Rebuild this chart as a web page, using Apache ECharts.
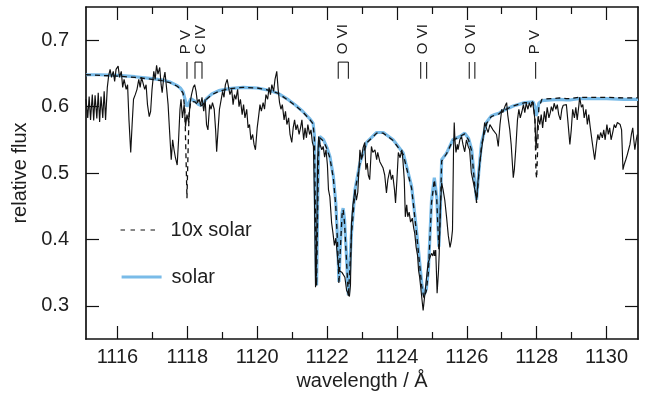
<!DOCTYPE html>
<html><head><meta charset="utf-8">
<script src="https://cdn.jsdelivr.net/npm/echarts@6/dist/echarts.min.js"></script>
<style>html,body{margin:0;padding:0;background:#fff}#c{width:651px;height:394px}</style>
</head><body><div id="c"></div>
<script>
// ---------- data ----------
const observed = [[1115.10,0.611],[1115.15,0.583],[1115.19,0.615],[1115.23,0.580],[1115.28,0.618],[1115.32,0.579],[1115.36,0.617],[1115.41,0.582],[1115.45,0.621],[1115.49,0.577],[1115.53,0.615],[1115.58,0.583],[1115.62,0.623],[1115.66,0.580],[1115.71,0.629],[1115.75,0.647],[1115.79,0.656],[1115.83,0.644],[1115.88,0.653],[1115.92,0.638],[1115.96,0.656],[1116.02,0.661],[1116.06,0.644],[1116.11,0.653],[1116.15,0.629],[1116.19,0.641],[1116.25,0.626],[1116.29,0.633],[1116.33,0.580],[1116.38,0.531],[1116.42,0.573],[1116.46,0.611],[1116.51,0.618],[1116.56,0.626],[1116.61,0.641],[1116.65,0.629],[1116.69,0.644],[1116.74,0.647],[1116.78,0.626],[1116.82,0.633],[1116.86,0.603],[1116.91,0.585],[1116.95,0.593],[1116.99,0.626],[1117.04,0.653],[1117.08,0.641],[1117.12,0.662],[1117.16,0.649],[1117.21,0.659],[1117.25,0.633],[1117.28,0.621],[1117.32,0.641],[1117.36,0.652],[1117.41,0.626],[1117.45,0.603],[1117.49,0.565],[1117.54,0.520],[1117.58,0.550],[1117.62,0.535],[1117.66,0.523],[1117.71,0.512],[1117.75,0.550],[1117.79,0.596],[1117.82,0.611],[1117.86,0.583],[1117.91,0.603],[1117.95,0.570],[1117.99,0.588],[1118.04,0.576],[1118.08,0.606],[1118.12,0.618],[1118.17,0.629],[1118.21,0.633],[1118.25,0.623],[1118.29,0.606],[1118.34,0.611],[1118.38,0.602],[1118.42,0.614],[1118.47,0.593],[1118.51,0.611],[1118.55,0.573],[1118.59,0.565],[1118.64,0.603],[1118.68,0.596],[1118.72,0.606],[1118.77,0.596],[1118.81,0.565],[1118.84,0.532],[1118.88,0.565],[1118.92,0.596],[1118.97,0.611],[1119.01,0.623],[1119.05,0.614],[1119.09,0.633],[1119.14,0.641],[1119.17,0.644],[1119.22,0.618],[1119.27,0.626],[1119.31,0.603],[1119.35,0.618],[1119.39,0.611],[1119.44,0.626],[1119.48,0.600],[1119.52,0.611],[1119.57,0.588],[1119.61,0.603],[1119.65,0.583],[1119.70,0.596],[1119.74,0.568],[1119.78,0.573],[1119.82,0.550],[1119.87,0.558],[1119.91,0.543],[1119.95,0.535],[1120.00,0.568],[1120.04,0.585],[1120.08,0.603],[1120.12,0.593],[1120.17,0.606],[1120.21,0.596],[1120.25,0.618],[1120.30,0.611],[1120.34,0.629],[1120.38,0.618],[1120.42,0.633],[1120.47,0.623],[1120.51,0.641],[1120.56,0.653],[1120.60,0.626],[1120.64,0.606],[1120.68,0.596],[1120.72,0.603],[1120.77,0.580],[1120.81,0.593],[1120.85,0.573],[1120.90,0.583],[1120.94,0.558],[1120.99,0.546],[1121.03,0.568],[1121.07,0.580],[1121.11,0.565],[1121.15,0.573],[1121.20,0.558],[1121.24,0.568],[1121.28,0.580],[1121.33,0.550],[1121.37,0.568],[1121.41,0.553],[1121.45,0.573],[1121.50,0.558],[1121.54,0.565],[1121.58,0.546],[1121.61,0.540],[1121.64,0.459],[1121.67,0.328],[1121.70,0.384],[1121.73,0.520],[1121.76,0.555],[1121.80,0.543],[1121.85,0.535],[1121.89,0.540],[1121.93,0.524],[1121.97,0.535],[1122.01,0.512],[1122.04,0.475],[1122.08,0.464],[1122.13,0.425],[1122.17,0.409],[1122.21,0.391],[1122.25,0.402],[1122.30,0.373],[1122.34,0.353],[1122.38,0.356],[1122.43,0.350],[1122.47,0.353],[1122.51,0.343],[1122.56,0.323],[1122.60,0.319],[1122.64,0.314],[1122.67,0.331],[1122.70,0.425],[1122.74,0.452],[1122.80,0.475],[1122.84,0.459],[1122.88,0.471],[1122.94,0.535],[1122.98,0.520],[1123.03,0.538],[1123.08,0.546],[1123.11,0.505],[1123.15,0.515],[1123.18,0.497],[1123.22,0.490],[1123.27,0.540],[1123.31,0.531],[1123.37,0.535],[1123.42,0.520],[1123.45,0.531],[1123.51,0.517],[1123.56,0.520],[1123.60,0.508],[1123.65,0.497],[1123.70,0.470],[1123.74,0.490],[1123.80,0.505],[1123.84,0.490],[1123.88,0.497],[1123.93,0.475],[1123.96,0.455],[1124.00,0.490],[1124.04,0.531],[1124.09,0.523],[1124.14,0.535],[1124.17,0.520],[1124.21,0.490],[1124.24,0.434],[1124.28,0.452],[1124.31,0.434],[1124.35,0.441],[1124.39,0.426],[1124.44,0.432],[1124.48,0.417],[1124.51,0.409],[1124.55,0.388],[1124.59,0.376],[1124.62,0.353],[1124.65,0.343],[1124.69,0.323],[1124.75,0.293],[1124.78,0.308],[1124.81,0.323],[1124.85,0.320],[1124.89,0.364],[1124.94,0.372],[1124.99,0.379],[1125.03,0.375],[1125.06,0.384],[1125.08,0.375],[1125.11,0.384],[1125.15,0.319],[1125.19,0.353],[1125.21,0.379],[1125.24,0.444],[1125.28,0.485],[1125.32,0.475],[1125.37,0.459],[1125.42,0.434],[1125.47,0.406],[1125.52,0.388],[1125.56,0.399],[1125.59,0.414],[1125.62,0.535],[1125.64,0.576],[1125.66,0.550],[1125.69,0.531],[1125.73,0.543],[1125.75,0.535],[1125.80,0.550],[1125.85,0.555],[1125.89,0.543],[1125.94,0.532],[1125.99,0.550],[1126.04,0.540],[1126.08,0.535],[1126.13,0.500],[1126.17,0.490],[1126.23,0.475],[1126.28,0.459],[1126.31,0.482],[1126.37,0.515],[1126.42,0.535],[1126.46,0.550],[1126.51,0.576],[1126.56,0.568],[1126.61,0.561],[1126.66,0.573],[1126.71,0.576],[1126.75,0.565],[1126.80,0.568],[1126.85,0.558],[1126.90,0.540],[1126.95,0.573],[1127.00,0.596],[1127.03,0.591],[1127.09,0.600],[1127.14,0.606],[1127.17,0.588],[1127.23,0.565],[1127.27,0.543],[1127.33,0.493],[1127.36,0.505],[1127.40,0.535],[1127.45,0.580],[1127.49,0.596],[1127.53,0.583],[1127.58,0.593],[1127.62,0.603],[1127.66,0.591],[1127.70,0.605],[1127.75,0.596],[1127.79,0.606],[1127.83,0.599],[1127.88,0.608],[1127.92,0.593],[1127.95,0.580],[1127.98,0.535],[1128.00,0.550],[1128.04,0.585],[1128.09,0.573],[1128.13,0.588],[1128.17,0.568],[1128.22,0.593],[1128.26,0.577],[1128.30,0.599],[1128.35,0.583],[1128.39,0.591],[1128.42,0.600],[1128.46,0.593],[1128.50,0.605],[1128.55,0.596],[1128.59,0.603],[1128.63,0.588],[1128.68,0.580],[1128.72,0.596],[1128.76,0.602],[1128.80,0.599],[1128.85,0.603],[1128.89,0.580],[1128.95,0.543],[1128.99,0.565],[1129.03,0.596],[1129.08,0.583],[1129.12,0.599],[1129.16,0.580],[1129.21,0.603],[1129.23,0.614],[1129.28,0.599],[1129.32,0.603],[1129.36,0.583],[1129.41,0.596],[1129.45,0.573],[1129.49,0.588],[1129.53,0.570],[1129.58,0.550],[1129.62,0.535],[1129.66,0.520],[1129.71,0.543],[1129.75,0.558],[1129.79,0.550],[1129.83,0.561],[1129.88,0.553],[1129.92,0.565],[1129.96,0.550],[1130.01,0.573],[1130.05,0.558],[1130.09,0.568],[1130.13,0.550],[1130.18,0.562],[1130.22,0.573],[1130.26,0.568],[1130.31,0.576],[1130.35,0.577],[1130.39,0.573],[1130.43,0.565],[1130.47,0.505],[1130.50,0.512],[1130.55,0.520],[1130.59,0.527],[1130.63,0.535],[1130.67,0.543],[1130.71,0.558],[1130.75,0.568],[1130.78,0.550],[1130.81,0.535],[1130.85,0.550],[1130.88,0.558]];

const solarModel = [[1115.10,0.648],[1115.50,0.648],[1116.00,0.647],[1116.50,0.645],[1117.00,0.642],[1117.30,0.640],[1117.50,0.637],[1117.70,0.632],[1117.80,0.628],[1117.88,0.622],[1117.93,0.612],[1117.96,0.605],[1117.99,0.600],[1118.02,0.602],[1118.05,0.606],[1118.10,0.612],[1118.15,0.612],[1118.22,0.608],[1118.30,0.604],[1118.38,0.602],[1118.45,0.604],[1118.55,0.612],[1118.70,0.619],[1118.90,0.624],[1119.20,0.627],[1119.60,0.629],[1120.00,0.628],[1120.30,0.625],[1120.60,0.620],[1120.90,0.610],[1121.10,0.602],[1121.30,0.593],[1121.50,0.582],[1121.60,0.575],[1121.64,0.555],[1121.67,0.430],[1121.70,0.331],[1121.73,0.450],[1121.76,0.540],[1121.79,0.555],[1121.90,0.550],[1122.00,0.538],[1122.08,0.525],[1122.18,0.495],[1122.25,0.455],[1122.30,0.400],[1122.34,0.336],[1122.38,0.390],[1122.43,0.440],[1122.46,0.447],[1122.50,0.430],[1122.55,0.380],[1122.61,0.316],[1122.66,0.370],[1122.70,0.410],[1122.80,0.475],[1122.94,0.515],[1123.13,0.546],[1123.42,0.561],[1123.61,0.561],[1123.89,0.550],[1124.18,0.530],[1124.42,0.480],[1124.56,0.414],[1124.71,0.334],[1124.77,0.316],[1124.84,0.325],[1124.90,0.353],[1124.99,0.459],[1125.07,0.493],[1125.14,0.464],[1125.20,0.389],[1125.24,0.440],[1125.28,0.520],[1125.42,0.530],[1125.60,0.550],[1125.80,0.555],[1125.94,0.560],[1126.05,0.552],[1126.14,0.535],[1126.22,0.490],[1126.28,0.460],[1126.34,0.500],[1126.42,0.545],[1126.57,0.577],[1126.70,0.586],[1126.80,0.588],[1126.85,0.585],[1126.92,0.590],[1127.00,0.593],[1127.33,0.601],[1127.66,0.606],[1127.90,0.607],[1127.95,0.600],[1127.98,0.586],[1128.00,0.585],[1128.03,0.594],[1128.06,0.605],[1128.15,0.609],[1128.40,0.610],[1128.66,0.611],[1128.85,0.610],[1128.90,0.607],[1128.95,0.610],[1129.20,0.612],[1129.52,0.612],[1130.00,0.612],[1130.50,0.611],[1130.90,0.611]];

const tenxModel = [[1115.10,0.648],[1115.50,0.647],[1116.00,0.646],[1116.50,0.644],[1117.00,0.641],[1117.30,0.639],[1117.50,0.636],[1117.70,0.631],[1117.80,0.627],[1117.88,0.620],[1117.93,0.595],[1117.96,0.530],[1117.99,0.462],[1118.02,0.530],[1118.05,0.590],[1118.10,0.608],[1118.15,0.611],[1118.22,0.607],[1118.30,0.603],[1118.38,0.601],[1118.45,0.603],[1118.55,0.611],[1118.70,0.618],[1118.90,0.623],[1119.20,0.627],[1119.60,0.629],[1120.00,0.628],[1120.30,0.625],[1120.60,0.620],[1120.90,0.609],[1121.10,0.601],[1121.30,0.592],[1121.50,0.581],[1121.60,0.574],[1121.64,0.550],[1121.67,0.420],[1121.70,0.330],[1121.73,0.440],[1121.76,0.535],[1121.79,0.553],[1121.90,0.548],[1122.00,0.536],[1122.08,0.523],[1122.18,0.492],[1122.25,0.450],[1122.30,0.395],[1122.34,0.333],[1122.38,0.385],[1122.43,0.438],[1122.46,0.445],[1122.50,0.425],[1122.55,0.375],[1122.61,0.314],[1122.66,0.365],[1122.70,0.408],[1122.80,0.473],[1122.94,0.514],[1123.13,0.545],[1123.42,0.560],[1123.61,0.560],[1123.89,0.549],[1124.18,0.528],[1124.42,0.477],[1124.56,0.410],[1124.71,0.330],[1124.77,0.312],[1124.84,0.322],[1124.90,0.350],[1124.99,0.455],[1125.07,0.490],[1125.14,0.460],[1125.20,0.385],[1125.24,0.435],[1125.28,0.518],[1125.42,0.529],[1125.60,0.549],[1125.80,0.555],[1125.94,0.559],[1126.05,0.550],[1126.14,0.533],[1126.22,0.485],[1126.28,0.455],[1126.34,0.495],[1126.42,0.542],[1126.57,0.575],[1126.70,0.585],[1126.80,0.587],[1126.85,0.584],[1126.92,0.589],[1127.00,0.593],[1127.33,0.601],[1127.66,0.606],[1127.90,0.606],[1127.95,0.580],[1127.98,0.500],[1128.00,0.492],[1128.03,0.540],[1128.06,0.598],[1128.15,0.611],[1128.40,0.612],[1128.66,0.613],[1128.85,0.612],[1128.90,0.610],[1128.95,0.612],[1129.20,0.614],[1129.52,0.614],[1130.00,0.614],[1130.50,0.613],[1130.90,0.613]];

const majorX = [1116,1118,1120,1122,1124,1126,1128,1130];
const minorX = [1117,1119,1121,1123,1125,1127,1129];
const yTicks = [0.3,0.4,0.5,0.6,0.7];

const lineLabels = ['P V','C IV','O VI','O VI','O VI','P V'];
const lineWaveA  = [1117.99,1118.22,1122.32,1124.68,1126.07,1127.97];
const lineWaveB  = [1117.99,1118.42,1122.61,1124.85,1126.23,1127.97];
const labelWave  = [1117.96,1118.40,1122.46,1124.73,1126.12,1127.94];
const lineKinds  = ['single','bracket','bracket','double','double','single'];

// ---------- chart ----------
const FONT = '"Liberation Sans", Arial, Helvetica, sans-serif';
const INK = '#1e1e1e';
const BLUE = '#79bbe8';
const MARK_LOW = 0.642, MARK_HIGH = 0.667, LABEL_BASE = 0.679;
const XMIN = 1115.1, XMAX = 1130.9;

function xAxisDef(pos, ticks, len, showLine, showLabel) {
  return {
    type: 'value', min: XMIN, max: XMAX, position: pos,
    splitLine: {show: false},
    axisLine: {show: showLine, onZero: false, lineStyle: {color: '#111', width: 1.7}},
    axisTick: {show: true, inside: true, length: len, customValues: ticks, lineStyle: {color: '#111', width: 1.2}},
    axisLabel: showLabel ? {show: true, customValues: ticks, margin: 8, fontSize: 20, color: INK, fontFamily: FONT,
                            formatter: v => String(Math.round(v))} : {show: false}
  };
}

const xAxes = [
  Object.assign(xAxisDef('bottom', majorX, 13, true, true), {
    name: 'wavelength / Å', nameLocation: 'middle', nameGap: 31,
    nameTextStyle: {fontSize: 20, color: INK, fontFamily: FONT}
  }),
  xAxisDef('bottom', minorX, 7, false, false),
  xAxisDef('top', majorX, 13, true, false),
  xAxisDef('top', minorX, 7, false, false)
];

const yAxes = [
  {
    type: 'value', min: 0.25, max: 0.75, position: 'left',
    splitLine: {show: false},
    axisLine: {show: true, onZero: false, lineStyle: {color: '#111', width: 1.7}},
    axisTick: {show: true, inside: true, length: 13, customValues: yTicks, lineStyle: {color: '#111', width: 1.2}},
    axisLabel: {customValues: yTicks, margin: 17, fontSize: 20, color: INK, fontFamily: FONT, formatter: v => v.toFixed(1)},
    name: 'relative flux', nameLocation: 'middle', nameGap: 51,
    nameTextStyle: {fontSize: 20, color: INK, fontFamily: FONT}
  },
  {
    type: 'value', min: 0.25, max: 0.75, position: 'right',
    splitLine: {show: false},
    axisLine: {show: true, onZero: false, lineStyle: {color: '#111', width: 1.7}},
    axisTick: {show: true, inside: true, length: 13, customValues: yTicks, lineStyle: {color: '#111', width: 1.2}},
    axisLabel: {show: false}
  }
];

function renderLineId(params, api) {
  const i = params.dataIndex;
  const a = api.coord([api.value(0), MARK_LOW]);
  const aTop = api.coord([api.value(0), MARK_HIGH]);
  const b = api.coord([api.value(2), MARK_LOW]);
  const t = api.coord([api.value(3), LABEL_BASE]);
  const st = {stroke: INK, lineWidth: 1.1};
  const kids = [];
  const kind = lineKinds[i];
  kids.push({type: 'line', shape: {x1: a[0], y1: a[1], x2: a[0], y2: aTop[1]}, style: st});
  if (kind !== 'single') {
    kids.push({type: 'line', shape: {x1: b[0], y1: b[1], x2: b[0], y2: aTop[1]}, style: st});
  }
  if (kind === 'bracket') {
    kids.push({type: 'line', shape: {x1: a[0], y1: aTop[1], x2: b[0], y2: aTop[1]}, style: st});
  }
  kids.push({
    type: 'text', x: t[0], y: t[1], rotation: Math.PI / 2,
    style: {text: lineLabels[i], fill: INK, font: '15px ' + FONT, align: 'left', verticalAlign: 'middle'}
  });
  return {type: 'group', children: kids};
}

const legendCommon = {
  padding: 0, orient: 'vertical', itemWidth: 40, itemHeight: 18, selectedMode: false,
  itemStyle: {opacity: 0, borderWidth: 0},
  textStyle: {fontSize: 20, color: INK, fontFamily: FONT, padding: [0, 0, 0, 5]}
};

const chart = echarts.init(document.getElementById('c'), null, {renderer: 'canvas'});
chart.setOption({
  animation: false,
  backgroundColor: '#fff',
  grid: {left: 86, top: 7, right: 13, bottom: 55, containLabel: false, outerBoundsMode: 'none'},
  xAxis: xAxes,
  yAxis: yAxes,
  legend: [
    Object.assign({data: ['10x solar'], left: 120, top: 220,
                   lineStyle: {color: '#111', width: 1.1, type: [4.5, 5.5]}}, legendCommon),
    Object.assign({data: ['solar'], left: 120, top: 267,
                   lineStyle: {color: BLUE, width: 3.2, type: 'solid'}}, legendCommon)
  ],
  series: [
    {name: 'solar', type: 'line', data: solarModel, symbol: 'none', showSymbol: false,
     lineStyle: {color: BLUE, width: 3.2}, itemStyle: {color: BLUE}, z: 2},
    {name: 'observed', type: 'line', data: observed, symbol: 'none', showSymbol: false,
     lineStyle: {color: '#111', width: 1.15}, itemStyle: {color: '#111'}, z: 3},
    {name: '10x solar', type: 'line', data: tenxModel, symbol: 'none', showSymbol: false,
     lineStyle: {color: '#111', width: 1.3, type: [5, 4]}, itemStyle: {color: '#111'}, z: 4},
    {name: 'ids', type: 'custom', renderItem: renderLineId, clip: false, z: 5,
     data: lineLabels.map((s, i) => [lineWaveA[i], MARK_LOW, lineWaveB[i], labelWave[i]]),
     encode: {x: [0, 2, 3], y: 1}, silent: true}
  ]
});
</script>
</body></html>
